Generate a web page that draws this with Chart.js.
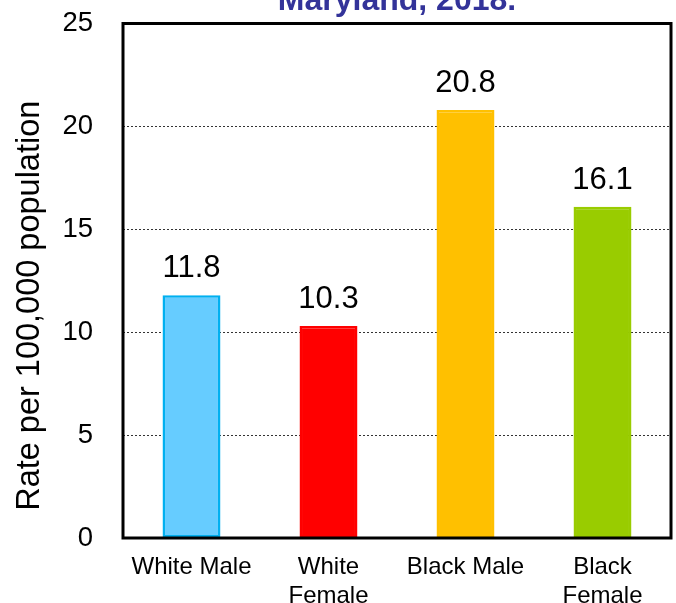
<!DOCTYPE html>
<html>
<head>
<meta charset="utf-8">
<script src="https://cdn.jsdelivr.net/npm/chart.js@4/dist/chart.umd.min.js"></script>
<style>
  html, body { margin: 0; padding: 0; background: #ffffff; }
  #wrap { width: 676px; height: 603px; overflow: hidden; position: relative; }
  #c { display: block; margin-top: -23px; }
</style>
</head>
<body>
<div id="wrap"><canvas id="c" width="676" height="626"></canvas></div>
<script>
const titleText = 'Maryland, 2018.';
const yAxisTitle = 'Rate per 100,000 population';
const categories = ['White Male', ['White', 'Female'], 'Black Male', ['Black', 'Female']];
const rates = [11.8, 10.3, 20.8, 16.1];
const barColors = ['#66CCFF', '#FF0000', '#FFC000', '#99CC00'];
const barBorders = ['#00B0F0', '#FF0000', '#FFC000', '#99CC00'];
const yTicks = [0, 5, 10, 15, 20, 25];

const FONT = "'Liberation Sans', Arial, sans-serif";

const frameAndLabels = {
  id: 'frameAndLabels',
  afterDatasetsDraw(chart) {
    const ctx = chart.ctx;
    const a = chart.chartArea;
    ctx.save();
    // plot frame
    ctx.strokeStyle = '#000000';
    ctx.lineWidth = 3;
    ctx.strokeRect(a.left, a.top, a.right - a.left, a.bottom - a.top);
    // value labels
    const meta = chart.getDatasetMeta(0);
    ctx.fillStyle = '#000000';
    ctx.font = '31px ' + FONT;
    ctx.textAlign = 'center';
    ctx.textBaseline = 'alphabetic';
    meta.data.forEach((bar, i) => {
      ctx.fillText(rates[i].toFixed(1), bar.x, bar.y - 18);
    });
    // y axis title
    ctx.translate(a.left - 93, (a.top + a.bottom) / 2 + 25);
    ctx.rotate(-Math.PI / 2);
    ctx.font = '32.5px ' + FONT;
    ctx.textAlign = 'center';
    ctx.textBaseline = 'middle';
    ctx.fillText(yAxisTitle, 0, 0);
    ctx.restore();
  }
};

new Chart(document.getElementById('c'), {
  type: 'bar',
  data: {
    labels: categories,
    datasets: [{
      data: rates,
      backgroundColor: barColors,
      borderColor: barBorders,
      borderWidth: 2.5,
      borderSkipped: false,
      barPercentage: 0.423,
      categoryPercentage: 1.0
    }]
  },
  options: {
    responsive: false,
    animation: false,
    devicePixelRatio: 1,
    layout: { padding: { left: 0, right: 5, top: 0, bottom: 0 } },
    plugins: {
      legend: { display: false },
      tooltip: { enabled: false },
      title: {
        display: true,
        text: titleText,
        fullSize: false,
        color: '#333399',
        font: { family: FONT, size: 32, weight: 'bold', lineHeight: 1.0 },
        padding: { top: 2, bottom: 6 }
      }
    },
    scales: {
      x: {
        grid: { display: false, drawTicks: false },
        border: { display: false },
        ticks: {
          color: '#000000',
          font: { family: FONT, size: 24 },
          padding: 15,
          maxRotation: 0,
          autoSkip: false
        },
        afterFit(s) { s.height = 65; }
      },
      y: {
        min: 0,
        max: 25,
        afterBuildTicks(s) { s.ticks = yTicks.map(v => ({ value: v })); },
        grid: {
          drawTicks: false,
          color: ctx => (ctx.tick && (ctx.tick.value === 0 || ctx.tick.value === 25)) ? 'rgba(0,0,0,0)' : '#333333',
          lineWidth: 1
        },
        border: { display: false, dash: [2, 2] },
        ticks: {
          color: '#000000',
          font: { family: FONT, size: 27.5 },
          padding: 30
        },
        afterFit(s) { s.width = 123; }
      }
    }
  },
  plugins: [frameAndLabels]
});
</script>
</body>
</html>
